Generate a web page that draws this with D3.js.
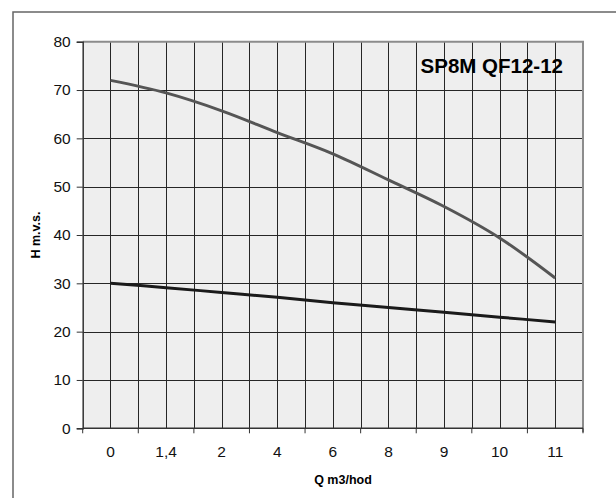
<!DOCTYPE html>
<html>
<head>
<meta charset="utf-8">
<script src="https://cdn.jsdelivr.net/npm/d3@7"></script>
<style>
  html, body { margin: 0; padding: 0; background: #ffffff; }
  svg { display: block; }
</style>
</head>
<body>
<script>
// ---- data ----
const categories = ["0", "1,4", "2", "4", "6", "8", "9", "10", "11"];
const headValues = [72, 69.4, 65.7, 61.2, 56.8, 51.4, 45.9, 39.4, 31.1];
const lowerValues = [30, 29.1, 28.1, 27.1, 26.0, 25.0, 24.0, 23.0, 22.0];
const yTicks = [0, 10, 20, 30, 40, 50, 60, 70, 80];
const chartTitle = "SP8M QF12-12";
const xTitle = "Q m3/hod";
const yTitle = "H m.v.s.";

// ---- layout ----
const W = 616, H = 498;
const plot = { left: 82.7, right: 583, top: 41.7, bottom: 428.3 };

const svg = d3.select("body").append("svg")
  .attr("width", W).attr("height", H);

// outer frame (extends past right/bottom edge)
svg.append("rect")
  .attr("x", 13).attr("y", 12)
  .attr("width", 640).attr("height", 520)
  .attr("fill", "#ffffff")
  .attr("stroke", "#666").attr("stroke-width", 1.5);

const x = d3.scaleBand().domain(categories)
  .range([plot.left, plot.right]).paddingInner(0).paddingOuter(0);
const bw = x.bandwidth();
const y = d3.scaleLinear().domain([0, 80]).range([plot.bottom, plot.top]);

// plot background
svg.append("rect")
  .attr("x", plot.left).attr("y", plot.top)
  .attr("width", plot.right - plot.left).attr("height", plot.bottom - plot.top)
  .attr("fill", "#eeeeee");

// vertical gridlines: band boundaries and band centers
const vLines = [];
categories.forEach((c, i) => {
  if (i > 0) vLines.push(x(c));
  vLines.push(x(c) + bw / 2);
});
svg.append("g").selectAll("line").data(vLines).join("line")
  .attr("x1", d => Math.round(d) + 0.5).attr("x2", d => Math.round(d) + 0.5)
  .attr("y1", plot.top).attr("y2", plot.bottom)
  .attr("stroke", "#262626").attr("stroke-width", 1);

// horizontal gridlines
svg.append("g").selectAll("line").data(yTicks.filter(t => t > 0 && t < 80)).join("line")
  .attr("x1", plot.left).attr("x2", plot.right)
  .attr("y1", d => Math.round(y(d)) + 0.5).attr("y2", d => Math.round(y(d)) + 0.5)
  .attr("stroke", "#262626").attr("stroke-width", 1);

// plot border top/right (gray)
svg.append("path")
  .attr("d", `M${plot.left},${plot.top}H${plot.right}V${plot.bottom + 4}`)
  .attr("fill", "none").attr("stroke", "#8c8c8c").attr("stroke-width", 2);

// y axis
const yAxis = d3.axisLeft(y).tickValues(yTicks).tickSize(6).tickPadding(6)
  .tickFormat(d3.format("d"));
const gy = svg.append("g").attr("transform", `translate(${plot.left},0)`).call(yAxis);
gy.select(".domain").attr("stroke", "#333").attr("stroke-width", 1.5);
gy.selectAll(".tick line").attr("stroke", "#333");
gy.selectAll(".tick text")
  .attr("font-family", "Liberation Sans, Arial, sans-serif")
  .attr("font-size", 15.5).attr("fill", "#111");

// x axis
const gx = svg.append("g").attr("transform", `translate(0,${plot.bottom})`);
gx.append("line")
  .attr("x1", plot.left).attr("x2", plot.right)
  .attr("y1", 0).attr("y2", 0)
  .attr("stroke", "#333").attr("stroke-width", 1.5);
const xBounds = categories.map(c => x(c)).concat([plot.right]);
gx.selectAll("line.tk").data(xBounds).join("line").attr("class", "tk")
  .attr("x1", d => d).attr("x2", d => d)
  .attr("y1", 0).attr("y2", 5)
  .attr("stroke", "#333").attr("stroke-width", 1);
gx.selectAll("text").data(categories).join("text")
  .attr("x", d => x(d) + bw / 2)
  .attr("y", 28.5)
  .attr("text-anchor", "middle")
  .attr("font-family", "Liberation Sans, Arial, sans-serif")
  .attr("font-size", 15.5).attr("fill", "#111")
  .text(d => d);

// lines
const line = d3.line()
  .x((d, i) => x(categories[i]) + bw / 2)
  .y(d => y(d))
  .curve(d3.curveCatmullRom.alpha(0.5));

svg.append("path").datum(headValues)
  .attr("d", line).attr("fill", "none")
  .attr("stroke", "#555555").attr("stroke-width", 3);

svg.append("path").datum(lowerValues)
  .attr("d", line).attr("fill", "none")
  .attr("stroke", "#1a1a1a").attr("stroke-width", 3);

// chart title
svg.append("text")
  .attr("x", 563).attr("y", 72.5)
  .attr("text-anchor", "end")
  .attr("font-family", "Liberation Sans, Arial, sans-serif")
  .attr("font-weight", "bold").attr("font-size", 20.5).attr("fill", "#000")
  .text(chartTitle);

// axis titles
svg.append("text")
  .attr("x", 343).attr("y", 484)
  .attr("text-anchor", "middle")
  .attr("font-family", "Liberation Sans, Arial, sans-serif")
  .attr("font-weight", "bold").attr("font-size", 12.5).attr("fill", "#000")
  .text(xTitle);

svg.append("text")
  .attr("transform", "translate(40,235) rotate(-90)")
  .attr("text-anchor", "middle")
  .attr("font-family", "Liberation Sans, Arial, sans-serif")
  .attr("font-weight", "bold").attr("font-size", 12.5).attr("fill", "#000")
  .text(yTitle);
</script>
</body>
</html>
